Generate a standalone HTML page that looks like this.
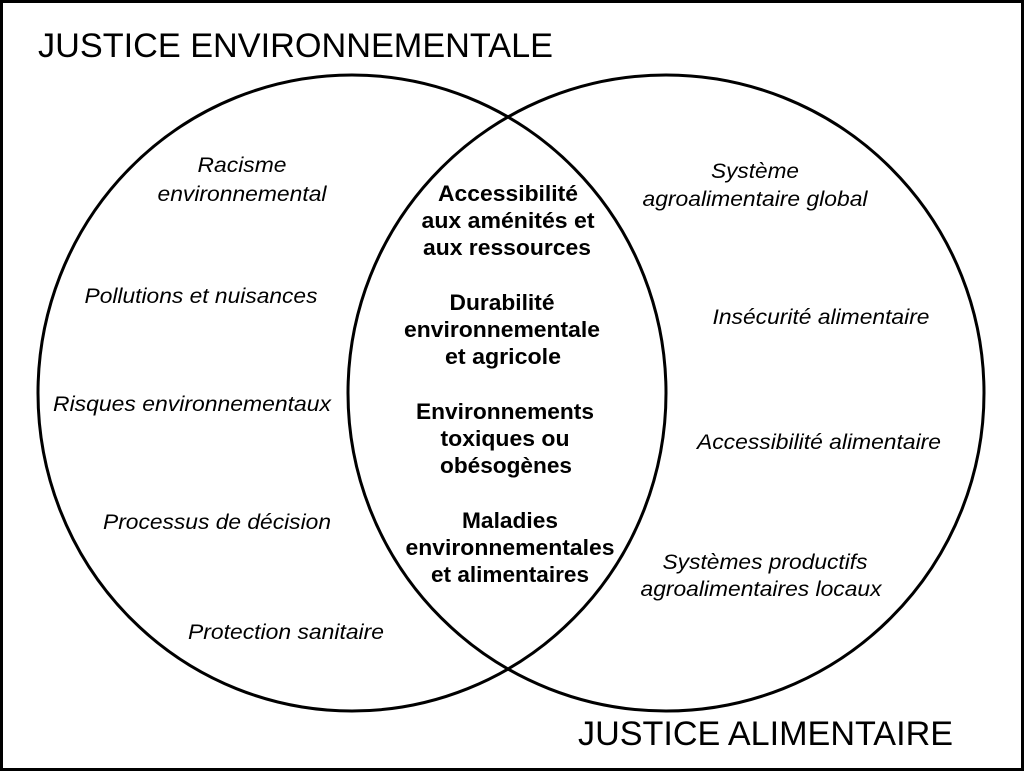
<!DOCTYPE html>
<html><head><meta charset="utf-8"><style>
html,body{margin:0;padding:0;background:#fff;}
svg{display:block;}
.i{font-family:"Liberation Sans",sans-serif;font-style:italic;font-size:21px;text-anchor:middle;}
.b{font-family:"Liberation Sans",sans-serif;font-weight:bold;font-size:22px;text-anchor:middle;}
.t{font-family:"Liberation Sans",sans-serif;font-size:34px;}
</style></head><body>
<svg width="1024" height="771" viewBox="0 0 1024 771" xmlns="http://www.w3.org/2000/svg">
<rect x="1.5" y="1.5" width="1021" height="768" fill="#fff" stroke="#000" stroke-width="3"/>
<ellipse cx="352" cy="393" rx="314" ry="318" fill="none" stroke="#000" stroke-width="3"/>
<ellipse cx="666" cy="393" rx="318" ry="318" fill="none" stroke="#000" stroke-width="3"/>
<text class="t" x="38" y="57" textLength="515" lengthAdjust="spacingAndGlyphs">JUSTICE ENVIRONNEMENTALE</text>
<text class="t" x="578" y="745" textLength="375" lengthAdjust="spacingAndGlyphs">JUSTICE ALIMENTAIRE</text>

<text class="i" x="242" y="172" textLength="89" lengthAdjust="spacingAndGlyphs">Racisme</text>
<text class="i" x="242" y="201" textLength="169" lengthAdjust="spacingAndGlyphs">environnemental</text>
<text class="i" x="201" y="303" textLength="233" lengthAdjust="spacingAndGlyphs">Pollutions et nuisances</text>
<text class="i" x="192" y="411" textLength="278" lengthAdjust="spacingAndGlyphs">Risques environnementaux</text>
<text class="i" x="217" y="529" textLength="228" lengthAdjust="spacingAndGlyphs">Processus de décision</text>
<text class="i" x="286" y="639" textLength="196" lengthAdjust="spacingAndGlyphs">Protection sanitaire</text>

<text class="i" x="755" y="178" textLength="88" lengthAdjust="spacingAndGlyphs">Système</text>
<text class="i" x="755" y="206" textLength="225" lengthAdjust="spacingAndGlyphs">agroalimentaire global</text>
<text class="i" x="821" y="324" textLength="217" lengthAdjust="spacingAndGlyphs">Insécurité alimentaire</text>
<text class="i" x="819" y="449" textLength="244" lengthAdjust="spacingAndGlyphs">Accessibilité alimentaire</text>
<text class="i" x="765" y="569" textLength="205" lengthAdjust="spacingAndGlyphs">Systèmes productifs</text>
<text class="i" x="761" y="596" textLength="241" lengthAdjust="spacingAndGlyphs">agroalimentaires locaux</text>

<text class="b" x="508" y="201" textLength="140" lengthAdjust="spacingAndGlyphs">Accessibilité</text>
<text class="b" x="508" y="228" textLength="173" lengthAdjust="spacingAndGlyphs">aux aménités et</text>
<text class="b" x="507" y="255" textLength="168" lengthAdjust="spacingAndGlyphs">aux ressources</text>
<text class="b" x="502" y="310" textLength="105" lengthAdjust="spacingAndGlyphs">Durabilité</text>
<text class="b" x="502" y="337" textLength="196" lengthAdjust="spacingAndGlyphs">environnementale</text>
<text class="b" x="503" y="364" textLength="116" lengthAdjust="spacingAndGlyphs">et agricole</text>
<text class="b" x="505" y="419" textLength="178" lengthAdjust="spacingAndGlyphs">Environnements</text>
<text class="b" x="505" y="446" textLength="129" lengthAdjust="spacingAndGlyphs">toxiques ou</text>
<text class="b" x="506" y="473" textLength="132" lengthAdjust="spacingAndGlyphs">obésogènes</text>
<text class="b" x="510" y="528" textLength="96" lengthAdjust="spacingAndGlyphs">Maladies</text>
<text class="b" x="510" y="555" textLength="209" lengthAdjust="spacingAndGlyphs">environnementales</text>
<text class="b" x="510" y="582" textLength="158" lengthAdjust="spacingAndGlyphs">et alimentaires</text>
</svg>
</body></html>
